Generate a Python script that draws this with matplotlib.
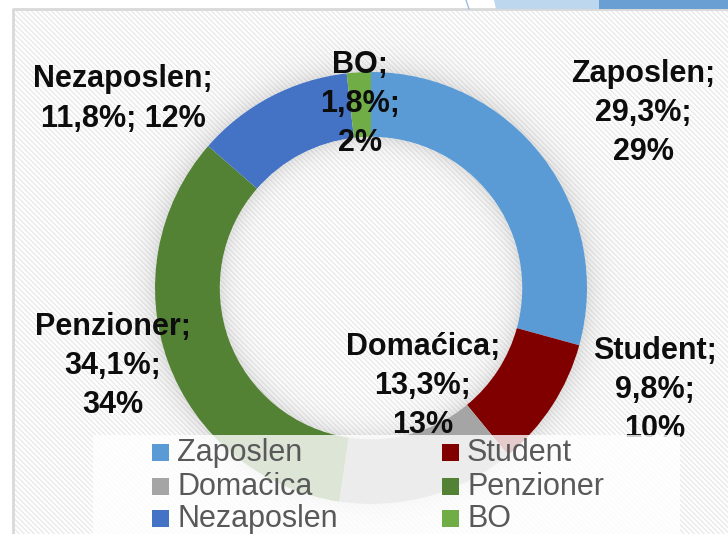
import numpy as np
import matplotlib
matplotlib.use("Agg")
import matplotlib.pyplot as plt
from matplotlib.patches import Rectangle, Polygon

# data
categories = ["Zaposlen", "Student", "Domaćica", "Penzioner", "Nezaposlen", "BO"]
shares = [29.3, 9.8, 13.3, 34.1, 11.8, 1.8]
colors = ["#5B9BD5", "#800000", "#A5A5A5", "#548235", "#4472C4", "#70AD47"]

# label block centres in pixels (x, y from top)
label_pos = [(643, 113), (655, 390), (423, 386), (113, 366), (123, 99), (360, 104)]

W, H = 728, 534
fig = plt.figure(figsize=(W / 100, H / 100), dpi=100)

# ====== background with diagonal stripes ======
bg = fig.add_axes([0, 0, 1, 1])
bg.set_xlim(0, W)
bg.set_ylim(H, 0)
bg.axis("off")
yy, xx = np.mgrid[9:H, 13:W]
stripes = np.where((xx - yy) % 5 < 2, 0.925, 0.99)
bg.imshow(stripes, cmap="gray", vmin=0, vmax=1, extent=(13, W, H, 9),
          interpolation="nearest", aspect="auto", zorder=1)
bg.plot([13, 13, W], [H, 9, 9], color="#d9d9d9", lw=2, zorder=2)

# top-right decoration
bg.add_patch(Polygon([[494, 0], [599, 0], [599, 9], [496, 9]], closed=True,
                     facecolor="#bdd7ee", edgecolor="none", zorder=2))
bg.add_patch(Polygon([[599, 0], [W, 0], [W, 9], [599, 9]], closed=True,
                     facecolor="#6a9fd4", edgecolor="none", zorder=2))
bg.plot([466, 469], [0, 9], color="#9dbde6", lw=1, zorder=2)

# ====== donut ======
R, cx, cy = 216, 371, 288
k = 1.3
pa = fig.add_axes([(cx - k * R) / W, (H - cy - k * R) / H, 2 * k * R / W, 2 * k * R / H])
pa.axis("off")

# soft shadow around the ring
g = np.linspace(-k, k, 600)
gx, gy = np.meshgrid(g, g)
r = np.hypot(gx, gy)
alpha = np.zeros_like(r)
alpha = np.where(r > 1, 0.2 * np.exp(-(r - 1) / 0.06), alpha)
alpha = np.where(r < 0.7, 0.2 * np.exp(-(0.7 - r) / 0.05), alpha)
shadow = np.zeros(r.shape + (4,))
shadow[..., :3] = 0.45
shadow[..., 3] = alpha
pa.imshow(shadow, extent=(-k, k, -k, k), origin="lower", zorder=0)

pa.pie(shares, colors=colors, startangle=90, counterclock=False, radius=1,
       wedgeprops=dict(width=0.3, edgecolor="none"))
pa.set_xlim(-k, k)
pa.set_ylim(-k, k)

# ====== labels and legend ======
ov = fig.add_axes([0, 0, 1, 1])
ov.set_xlim(0, W)
ov.set_ylim(H, 0)
ov.axis("off")

for name, v, (lx, ly) in zip(categories, shares, label_pos):
    pct = f"{v:.1f}".replace(".", ",")
    if name == "Nezaposlen":
        txt = f"{name};\n{pct}%; {round(v)}%"
    else:
        txt = f"{name};\n{pct}%;\n{round(v)}%"
    ov.text(lx, ly, txt, ha="center", va="center", multialignment="center",
            fontsize=22, fontweight="bold", family="Liberation Sans",
            color="#0d0d0d", linespacing=1.4, zorder=3)

ov.add_patch(Rectangle((93, 435), 587, 110, facecolor="white", alpha=0.8,
                       edgecolor="none", zorder=5))
col_x = [152, 442]
row_y = [452, 486, 518]
for i, (name, c) in enumerate(zip(categories, colors)):
    x0 = col_x[i % 2]
    y0 = row_y[i // 2]
    ov.add_patch(Rectangle((x0, y0 - 8), 17, 17, facecolor=c, edgecolor="none", zorder=6))
    ov.text(x0 + 25, y0 + 1, name, ha="left", va="center", fontsize=22,
            family="Liberation Sans", color="#595959", zorder=6)

fig.savefig("out.png", dpi=100)
